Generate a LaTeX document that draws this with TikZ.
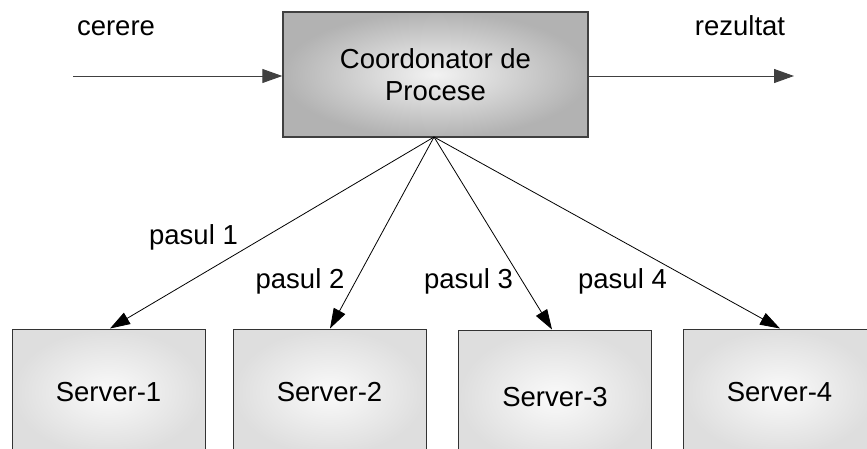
\documentclass[tikz,border=0pt]{standalone}
\usepackage{fontspec}
\setmainfont{Liberation Sans}
\usetikzlibrary{arrows.meta,calc}
\tikzset{
  lbl/.style={font=\fontsize{27.5}{32}\selectfont, inner sep=0pt},
  coordbox/.style={draw=black!75, line width=1.4pt, inner color=black!5, outer color=black!30,
    minimum width=305pt, minimum height=125pt, lbl, align=center},
  srvbox/.style={draw=black!80, line width=1pt, inner color=black!2, outer color=black!13,
    minimum width=193pt, lbl},
  flow/.style={draw=black!75, line width=1pt, -{Triangle[length=20pt,width=14pt]}},
  step arrow/.style={draw=black, line width=0.8pt, -{Triangle[length=20pt,width=13pt]}}
}
\begin{document}
\begin{tikzpicture}[x=1pt,y=-1pt]
\useasboundingbox (0,0) rectangle (867,448);
\clip (0,0) rectangle (867,448);

% central coordinator
\node[coordbox] (coord) at (435.5,74.5) {Coordonator de\\[0pt]Procese};
\coordinate (hub) at (434,137);

% request / result flow
\coordinate (in) at (73,76);
\coordinate (out) at (794,76);
\draw[flow] (in) -- (in -| coord.west);
\draw[flow] (out -| coord.east) -- (out);
\node[lbl, anchor=base] (req) at (116,35) {cerere};
\node[lbl, anchor=base] (res) at (740,35) {rezultat};

% servers
\node[srvbox, minimum height=126pt] (s1) at (108.5,392) {Server-1};
\node[srvbox, minimum height=126pt] (s2) at (329.5,392) {Server-2};
\node[srvbox, minimum height=134pt] (s3) at (555,397) {Server-3};
\node[srvbox, minimum height=126pt] (s4) at (779.5,392) {Server-4};

% dispatch steps
\draw[step arrow] (hub) -- ($(s1.north)+(1.5,0)$);
\draw[step arrow] (hub) -- ($(s2.north)+(0.5,0)$);
\draw[step arrow] (hub) -- ($(s3.north)+(-3,0)$);
\draw[step arrow] (hub) -- ($(s4.north)+(0.5,0)$);

\node[lbl, anchor=base] (p1) at (193.5,244) {pasul 1};
\node[lbl, anchor=base] (p2) at (300,288) {pasul 2};
\node[lbl, anchor=base] (p3) at (468.5,288) {pasul 3};
\node[lbl, anchor=base] (p4) at (622.5,288) {pasul 4};
\end{tikzpicture}
\end{document}
